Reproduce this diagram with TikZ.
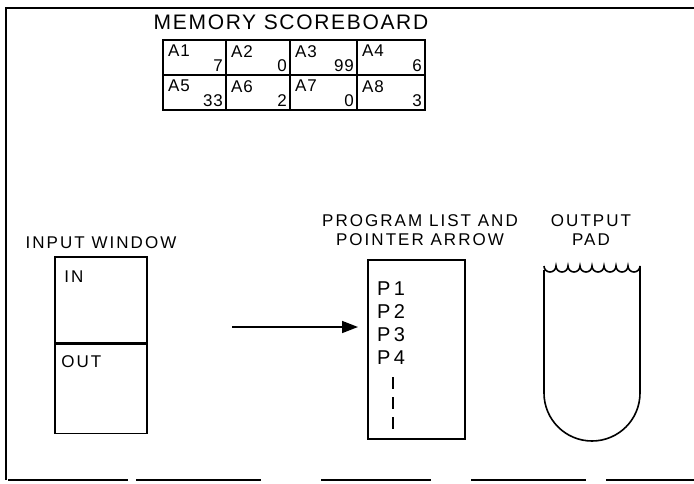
\documentclass[tikz,border=0pt]{standalone}
\usepackage{fontspec}
\setmainfont{Liberation Sans}
\newfontfamily\lbl[LetterSpace=12]{Liberation Sans}
\newfontfamily\ttl[LetterSpace=8]{Liberation Sans}
\newfontfamily\cel[LetterSpace=5]{Liberation Sans}
\usetikzlibrary{arrows.meta}
\begin{document}
\begin{tikzpicture}[x=1pt,y=-1pt,
  box/.style={draw,line width=1.6pt},
  frame/.style={line width=2pt},
  title/.style={font=\ttl\fontsize{21}{23}\selectfont,inner sep=0pt},
  cell/.style={font=\cel\fontsize{17}{18}\selectfont,inner sep=0pt},
  plab/.style={font=\cel\fontsize{20}{22}\selectfont,inner sep=0pt,anchor=west},
  lab/.style={font=\lbl\fontsize{17}{19}\selectfont,inner sep=0pt,align=center}]
\useasboundingbox (0,0) rectangle (694,483);
% frame
\draw[frame] (6,480) -- (6,8) -- (694,8);
\draw[line width=1.4pt,dash pattern=on 120pt off 8pt on 125pt off 60pt on 110pt off 40pt on 115pt off 20pt on 90pt]
  (8,480) -- (694,480);
% scoreboard
\node[title] (sbt) at (291,22) {MEMORY SCOREBOARD};
\draw[box] (163,40) rectangle (425,110);
\draw[box] (163,75) -- (425,75);
\foreach \x in {226,290,357} \draw[box] (\x,40) -- (\x,110);
\foreach \xa/\xb/\nm/\val [count=\i] in {163/226/A1/7,226/290/A2/0,290/357/A3/99,357/425/A4/6}{
  \node[cell,anchor=north west] (c\i) at (\xa+5,45) {\nm};
  \node[cell,anchor=south east] (v\i) at (\xb-3,72) {\val};
}
\foreach \xa/\xb/\nm/\val [count=\i from 5] in {163/226/A5/33,226/290/A6/2,290/357/A7/0,357/425/A8/3}{
  \node[cell,anchor=north west] (c\i) at (\xa+5,80) {\nm};
  \node[cell,anchor=south east] (v\i) at (\xb-3,107) {\val};
}
% input window
\node[lab] (iwl) at (101,243) {INPUT WINDOW};
\node[box,minimum width=92pt,minimum height=86pt,inner sep=0pt] (in) at (101,300) {};
\node[box,minimum width=92pt,minimum height=89pt,inner sep=0pt,anchor=north] (out) at (in.south) {};
\node[lab,anchor=north west] (inl) at ([xshift=10pt,yshift=-14pt]in.north west) {IN};
\node[lab,anchor=north west] (outl) at ([xshift=7pt,yshift=-12pt]out.north west) {OUT};
% program list
\node[lab] (pll) at (420,230) {PROGRAM LIST AND\\POINTER ARROW};
\node[box,minimum width=97pt,minimum height=179pt,inner sep=0pt] (pl) at (416.5,349.5) {};
\node[plab] (p1) at (377,289) {P\,1};
\node[plab] (p2) at (377,312) {P\,2};
\node[plab] (p3) at (377,335) {P\,3};
\node[plab] (p4) at (377,358) {P\,4};
\coordinate (d0) at (393,377);
\coordinate (d1) at (393,432);
\draw[line width=1.8pt,dash pattern=on 12pt off 8pt] (d0) -- (d1);
% arrow
\coordinate (a0) at (232,327);
\coordinate (a1) at (358,327);
\draw[line width=1.6pt,-{Triangle[length=16pt,width=12pt]}] (a0) -- (a1);
% output pad
\node[lab] (opl) at (591,230) {OUTPUT\\PAD};
\draw[line width=1.6pt] (544,270) -- (544,393) arc[start angle=180,end angle=0,radius=48] -- (640,266)
  \foreach \k in {0,...,7}{ arc[start angle=0,end angle=180,radius=6] };
\end{tikzpicture}
\end{document}
